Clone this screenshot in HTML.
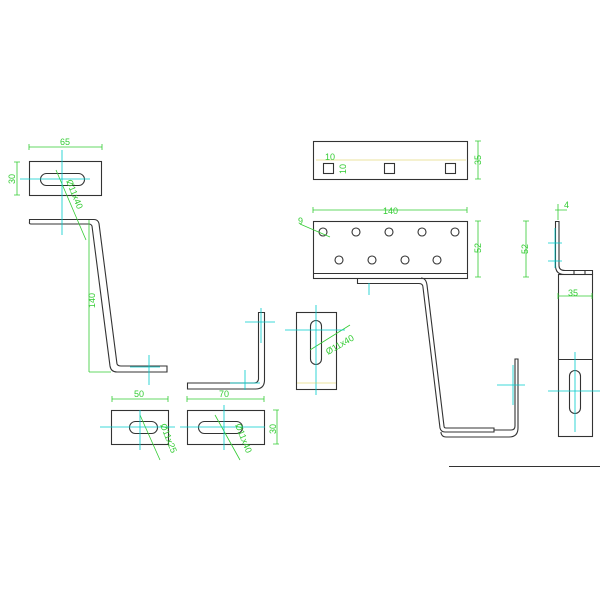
<!DOCTYPE html><html><head><style>body{margin:0;background:#fff}svg{display:block}text{font-family:"Liberation Sans",sans-serif;font-size:9px;fill:#33cc33}</style></head><body>
<svg width="600" height="600" viewBox="0 0 600 600" fill="none" stroke-width="1">
<g stroke="#333" stroke-width="1.1">
<rect x="29.5" y="161.5" width="72" height="34"/>
<rect x="40.5" y="173.5" width="44" height="12" rx="6"/>
<path d="M29.5 219.5H94q4 0 5 4L117 364q1 2 4 2H167v6H117q-6 0-7-6L92 226q-1-2-3-2H31q-2 0-1.5-2z"/>
<path d="M258.5 312.5h6V380q0 9-9 9H187.5v-6H254q4 0 4.5-4z"/>
<rect x="296.5" y="312.5" width="40" height="77"/>
<rect x="310.5" y="320.5" width="11" height="44" rx="5.5"/>
<rect x="111.5" y="410.5" width="57" height="34"/>
<rect x="129.5" y="421.5" width="28" height="12" rx="6"/>
<rect x="187.5" y="410.5" width="77" height="34"/>
<rect x="198.5" y="421.5" width="44" height="12" rx="6"/>
<rect x="313.5" y="141.5" width="154" height="38"/>
<rect x="323.5" y="163.5" width="10" height="10"/><rect x="384.5" y="163.5" width="10" height="10"/><rect x="445.5" y="163.5" width="10" height="10"/>
<rect x="313.5" y="221.5" width="154" height="57"/><path d="M313.5 273.5h154"/>
<g><circle cx="323" cy="232" r="4"/><circle cx="356" cy="232" r="4"/><circle cx="389" cy="232" r="4"/><circle cx="422" cy="232" r="4"/><circle cx="455" cy="232" r="4"/><circle cx="339" cy="260" r="4"/><circle cx="372" cy="260" r="4"/><circle cx="405" cy="260" r="4"/><circle cx="437" cy="260" r="4"/></g>
<path d="M357.5 278.5v5H419q4 0 4 4L440 428q1 4 5 4H494v-4H446q-2 0-2-2L427 285q-1-7-6-7"/>
<path d="M441 432v1q1 4 5 4H509q9 0 9-9V359h-3v67q0 4-4 4H494"/>
<path d="M555.5 221.5v44q0 9 9 9H592.5v-4H565q-6 0-6-5v-44z"/>
<rect x="558.5" y="274.5" width="34" height="162"/><path d="M558.5 359.5h34M574 270v4M585 270v4"/>
<rect x="569.5" y="370.5" width="11" height="43" rx="5.5"/>
<path d="M449 466.5h151"/>
</g>
<g stroke="#33cc33" stroke-width="0.8">
<path d="M29 147h73M29 144v6M102 144v6M17 162v33M14 162h6M14 195h6M89 220v152M89 372h22M56 170l30 70"/>
<path d="M112 399h56M112 396v6M168 396v6M187 399h77M187 396v6M264 396v6M277 410v34M273 410h6M273 444h6"/>
<path d="M313 210h154M313 207v6M467 207v6M478 141v38M475 141h6M475 179h6M478 221v56M475 221h6M475 277h6M300 224l30 13"/>
<path d="M526 221v56M523 221h6M523 277h6M558 204v16M555 210h12M558 296h34M558 293v6M592 293v6M310 350l40-25M140 415l20 45M215 415l25 45"/>
</g>
<g stroke="#00cccc" stroke-width="0.8">
<path d="M62 150v85M20 179h70M149 355v30M130 367h30M140 410v40M100 427h75M224 405v45M180 427h85M245 370v20M230 383h30M261 308v35M245 322h30M316 305v90M285 330h60M369 283v12M513 365v40M497 385h28M575 352v80M548 391h52M555 228v40M548 243h14M548 261h14"/>
</g>
<g stroke="#d8c840" stroke-width="0.6"><path d="M316 160h150M297 383h39"/></g>
<text x="60" y="145">65</text>
<text transform="translate(15,184) rotate(-90)">30</text>
<text transform="translate(95,308) rotate(-90)">140</text>
<text transform="translate(66,181) rotate(68)">Ø11x40</text>
<text x="134" y="397">50</text><text x="219" y="397">70</text>
<text transform="translate(276,434) rotate(-90)">30</text>
<text transform="translate(160,425) rotate(68)">Ø11x25</text>
<text transform="translate(235,425) rotate(68)">Ø11x40</text>
<text transform="translate(328,355) rotate(-30)">Ø11x40</text>
<text x="325" y="160">10</text>
<text transform="translate(346,174) rotate(-90)">10</text>
<text transform="translate(481,165) rotate(-90)">35</text>
<text x="383" y="214">140</text><text x="298" y="224">9</text>
<text transform="translate(481,253) rotate(-90)">52</text>
<text transform="translate(528,254) rotate(-90)">52</text>
<text x="564" y="208">4</text><text x="568" y="296">35</text>
</svg></body></html>
